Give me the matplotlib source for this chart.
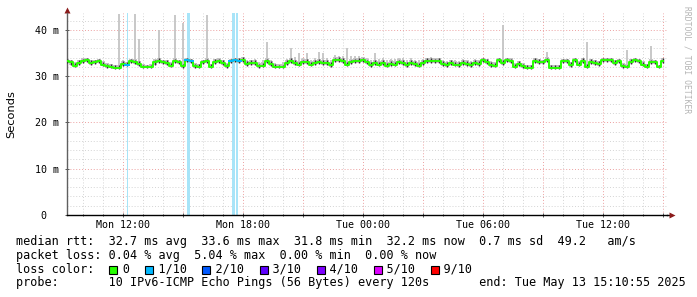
import matplotlib
matplotlib.use("Agg")
import matplotlib.pyplot as plt
from matplotlib.patches import Rectangle
from matplotlib.ticker import MultipleLocator
import numpy as np

# time window in hours since Mon 00:00 (30 h ending Tue 15:10:55)
t_start = 9.1819
t_end = 39.1819
step_h = 0.2

# median rtt in ms, one value per 12 minutes
median = [33.2, 33.0, 32.2, 32.8, 33.2, 33.4, 32.9, 33.0, 33.2, 32.5,
          32.1, 32.0, 31.8, 31.8, 32.6, 32.5, 33.2, 33.0, 32.6, 31.9,
          31.9, 31.9, 33.0, 33.3, 33.0, 32.8, 32.2, 33.2, 33.0, 32.1,
          33.4, 33.2, 32.1, 32.0, 33.0, 33.2, 32.0, 33.1, 33.2, 32.8,
          32.1, 33.2, 33.4, 33.3, 33.5, 32.6, 32.8, 32.9, 32.1, 32.3,
          33.2, 32.6, 32.0, 31.9, 31.9, 32.8, 33.3, 32.9, 32.5, 33.0,
          33.1, 32.5, 32.8, 33.1, 32.8, 32.9, 32.4, 33.4, 33.5, 33.3,
          32.5, 33.0, 33.2, 33.3, 33.4, 33.0, 32.4, 32.8, 32.5, 32.9,
          32.3, 32.7, 32.5, 33.0, 32.8, 32.4, 32.9, 32.6, 32.3, 32.8,
          33.3, 33.3, 33.2, 33.3, 32.6, 32.4, 32.8, 32.5, 32.4, 32.9,
          32.7, 32.4, 32.9, 32.7, 33.4, 33.1, 32.4, 32.3, 33.4, 32.8,
          33.4, 33.2, 32.0, 32.6, 32.1, 31.8, 31.8, 33.3, 33.1, 33.0,
          33.4, 31.8, 31.8, 31.8, 33.2, 33.2, 32.4, 33.4, 32.5, 33.3,
          32.0, 33.1, 32.9, 32.7, 33.4, 33.5, 33.5, 32.8, 33.3, 32.1,
          31.9, 33.1, 33.4, 33.3, 32.5, 32.0, 33.0, 33.0, 31.9, 33.3]

# highest ping per interval (smoke top)
ping_hi = [33.8, 33.6, 33.0, 33.5, 33.9, 33.9, 33.6, 33.5, 33.8, 33.2,
           32.8, 32.6, 32.5, 43.5, 33.4, 33.1, 33.8, 43.5, 38.0, 32.6,
           32.5, 32.6, 33.7, 40.0, 33.6, 33.4, 33.0, 43.3, 33.6, 41.6,
           33.9, 33.8, 32.8, 32.7, 33.6, 43.3, 32.7, 33.7, 33.9, 33.5,
           32.8, 33.8, 34.0, 33.9, 34.1, 33.5, 33.6, 33.7, 33.0, 33.4,
           37.5, 33.4, 32.9, 32.7, 33.0, 33.7, 36.1, 34.2, 35.0, 33.9,
           35.0, 33.6, 34.0, 35.3, 35.0, 34.0, 33.6, 34.6, 34.3, 34.3,
           36.1, 34.3, 34.3, 34.4, 34.2, 33.9, 33.6, 35.0, 33.8, 34.0,
           33.6, 33.8, 33.7, 34.0, 33.9, 33.5, 34.0, 33.6, 33.4, 33.8,
           34.0, 34.1, 33.9, 34.0, 33.5, 33.3, 33.6, 33.4, 33.3, 33.7,
           33.5, 33.2, 33.7, 33.5, 34.0, 33.8, 33.2, 33.1, 34.0, 41.1,
           34.0, 33.9, 32.8, 33.3, 32.8, 32.4, 32.4, 33.9, 33.8, 33.6,
           35.3, 32.4, 32.4, 32.4, 33.8, 33.8, 33.1, 33.9, 33.2, 33.9,
           37.3, 33.7, 33.5, 33.3, 33.9, 34.0, 34.0, 33.5, 33.8, 32.8,
           35.6, 33.7, 34.0, 33.8, 33.2, 32.6, 36.6, 33.5, 32.5, 33.9]

# lowest ping per interval (smoke bottom)
ping_lo = [32.8, 32.5, 31.9, 32.4, 32.8, 33.0, 32.5, 32.6, 32.8, 32.1,
           31.8, 31.7, 31.6, 31.6, 32.2, 32.1, 32.8, 32.6, 32.3, 31.7,
           31.7, 31.7, 32.5, 32.9, 32.6, 32.4, 31.9, 32.8, 32.6, 31.8,
           33.0, 32.8, 31.8, 31.7, 32.6, 32.8, 31.7, 32.7, 32.8, 32.4,
           31.8, 32.8, 33.0, 32.9, 33.1, 32.2, 32.4, 32.5, 31.8, 31.9,
           32.8, 32.2, 31.7, 31.7, 31.7, 32.4, 32.9, 32.5, 32.1, 32.6,
           32.7, 32.1, 32.4, 32.7, 32.4, 32.5, 32.0, 33.0, 33.1, 32.9,
           32.1, 32.6, 32.8, 32.9, 33.0, 32.6, 32.0, 32.4, 32.1, 32.5,
           31.9, 32.3, 32.1, 32.6, 32.4, 32.0, 32.5, 32.2, 31.9, 32.4,
           32.9, 32.9, 32.8, 32.9, 32.2, 32.0, 32.4, 32.1, 32.0, 32.5,
           32.3, 32.0, 32.5, 32.3, 33.0, 32.7, 32.0, 31.9, 33.0, 32.4,
           33.0, 32.8, 31.7, 32.2, 31.8, 31.6, 31.6, 32.9, 32.7, 32.6,
           33.0, 31.6, 31.6, 31.6, 32.8, 32.8, 32.0, 33.0, 32.1, 32.9,
           31.7, 32.7, 32.5, 32.3, 33.0, 33.1, 33.1, 32.4, 32.9, 31.8,
           31.7, 32.7, 33.0, 32.9, 32.1, 31.7, 32.6, 32.6, 31.7, 32.9]

# packet loss events (1/10): start hour, duration in hours
loss_start = [12.172, 15.197, 17.447, 17.632]
loss_dur = [0.05, 0.15, 0.15, 0.13]

xtick_hours = [12, 15, 18, 21, 24, 27, 30, 33, 36, 39]
xtick_labels = ["Mon 12:00", "", "Mon 18:00", "", "Tue 00:00", "",
                "Tue 06:00", "", "Tue 12:00", ""]
ytick_vals = [0, 10, 20, 30, 40]
ytick_labels = [" 0", "10 m", "20 m", "30 m", "40 m"]

legend_rows = [
    "median rtt:  32.7 ms avg  33.6 ms max  31.8 ms min  32.2 ms now  0.7 ms sd  49.2   am/s",
    "packet loss: 0.04 % avg  5.04 % max  0.00 % min  0.00 % now",
    "loss color:    0    1/10    2/10    3/10    4/10    5/10    9/10",
    "probe:       10 IPv6-ICMP Echo Pings (56 Bytes) every 120s       end: Tue May 13 15:10:55 2025",
]
loss_colors = ["#26ff00", "#00b8ff", "#0059ff", "#5e00ff", "#7e00ff", "#dd00ff", "#ff0000"]
loss_cols = [13, 18, 26, 34, 42, 50, 58]

W, H = 697, 297
fig = plt.figure(figsize=(W / 100, H / 100), dpi=100)
ax = fig.add_axes([66.7 / W, 1 - 215 / H, 600 / W, 202.4 / H])

t = t_start + step_h * np.arange(len(median))
med = np.array(median)
lo = np.array(ping_lo)
hi = np.array(ping_hi)

# loss background
for s, d in zip(loss_start, loss_dur):
    ax.axvspan(s, s + d, color="#a8e4f8", lw=0, zorder=1)

# smoke: thin light strokes for the full spread, darker core near the median
ax.vlines(t, lo, hi, color="#c4c4c4", lw=1.3, zorder=2)
ax.fill_between(t, lo, np.minimum(hi, med + 0.7), step="mid", color="#c4c4c4", lw=0, zorder=2)
ax.vlines(t, lo, np.minimum(hi, med + 0.6), color="#333333", lw=1.0, zorder=3)

# median line, coloured by loss
ax.plot(t, med, drawstyle="steps-mid", color=loss_colors[0], lw=1.4, zorder=4)
inloss = np.zeros(len(t), dtype=bool)
for s, d in zip(loss_start, loss_dur):
    inloss |= (t > s - step_h / 2) & (t < s + d + step_h / 2)
ax.plot(t, np.ma.masked_where(~inloss, med), drawstyle="steps-mid",
        color=loss_colors[1], lw=1.4, zorder=5)

ax.set_xlim(t_start, t_end)
ax.set_ylim(0, 43.75)

ax.set_xticks(xtick_hours)
ax.set_xticklabels(xtick_labels, family="DejaVu Sans Mono", fontsize=7.2)
ax.xaxis.set_minor_locator(MultipleLocator(1))
ax.set_yticks(ytick_vals)
ax.set_yticklabels(ytick_labels, family="DejaVu Sans Mono", fontsize=7.2)
ax.yaxis.set_minor_locator(MultipleLocator(2))
for lab in ax.get_yticklabels():
    lab.set_horizontalalignment("left")

ax.tick_params(axis="x", which="both", direction="inout", length=3, width=0.7,
               color="#555555", pad=2)
ax.tick_params(axis="y", which="major", direction="inout", length=3, width=0.7,
               color="#555555", pad=21.5)
ax.tick_params(axis="y", which="minor", length=0)
ax.tick_params(axis="x", which="minor", length=2)

ax.grid(which="minor", color="#d4d4d4", lw=0.7, ls=(0, (1, 2)))
ax.grid(which="major", color="#eca0a0", lw=0.7, ls=(0, (1, 2)))
ax.set_axisbelow(True)

for sp in ["top", "right"]:
    ax.spines[sp].set_visible(False)
ax.spines["left"].set_color("#606060")
ax.spines["bottom"].set_color("#000000")
ax.spines["left"].set_linewidth(1)
ax.spines["bottom"].set_linewidth(1)

# axis arrows
ax.plot([1, 1.007], [0, 0], transform=ax.transAxes, color="k", lw=1, clip_on=False)
ax.plot([1.008], [0], transform=ax.transAxes, marker=">", color="#8b1a1a",
        ms=4, clip_on=False, mec="none")
ax.plot([0], [1.015], transform=ax.transAxes, marker="^", color="#8b1a1a",
        ms=4, clip_on=False, mec="none")

fig.text(11 / W, 1 - 114 / H, "Seconds", rotation=90, ha="center", va="center",
         fontsize=8.2, family="DejaVu Sans")
fig.text(687 / W, 1 - 60 / H, "RRDTOOL / TOBI OETIKER", rotation=270,
         ha="center", va="center", fontsize=5.8, family="DejaVu Sans Mono",
         color="#b4b4b4")

# legend block
char_w = 7.15
row_y = [241.7, 255.0, 269.3, 282.7]
for txt, y in zip(legend_rows, row_y):
    fig.text(16 / W, 1 - y / H, txt, ha="left", va="center", fontsize=8.5,
             family="DejaVu Sans Mono")
for col, c in zip(loss_cols, loss_colors):
    x0 = 16 + col * char_w + 0.5
    fig.patches.append(Rectangle((x0 / W, 1 - (269.5 + 4.3) / H), 8 / W, 8.3 / H,
                                 transform=fig.transFigure, facecolor=c,
                                 edgecolor="black", lw=0.8))

fig.savefig("out.png", dpi=100)
